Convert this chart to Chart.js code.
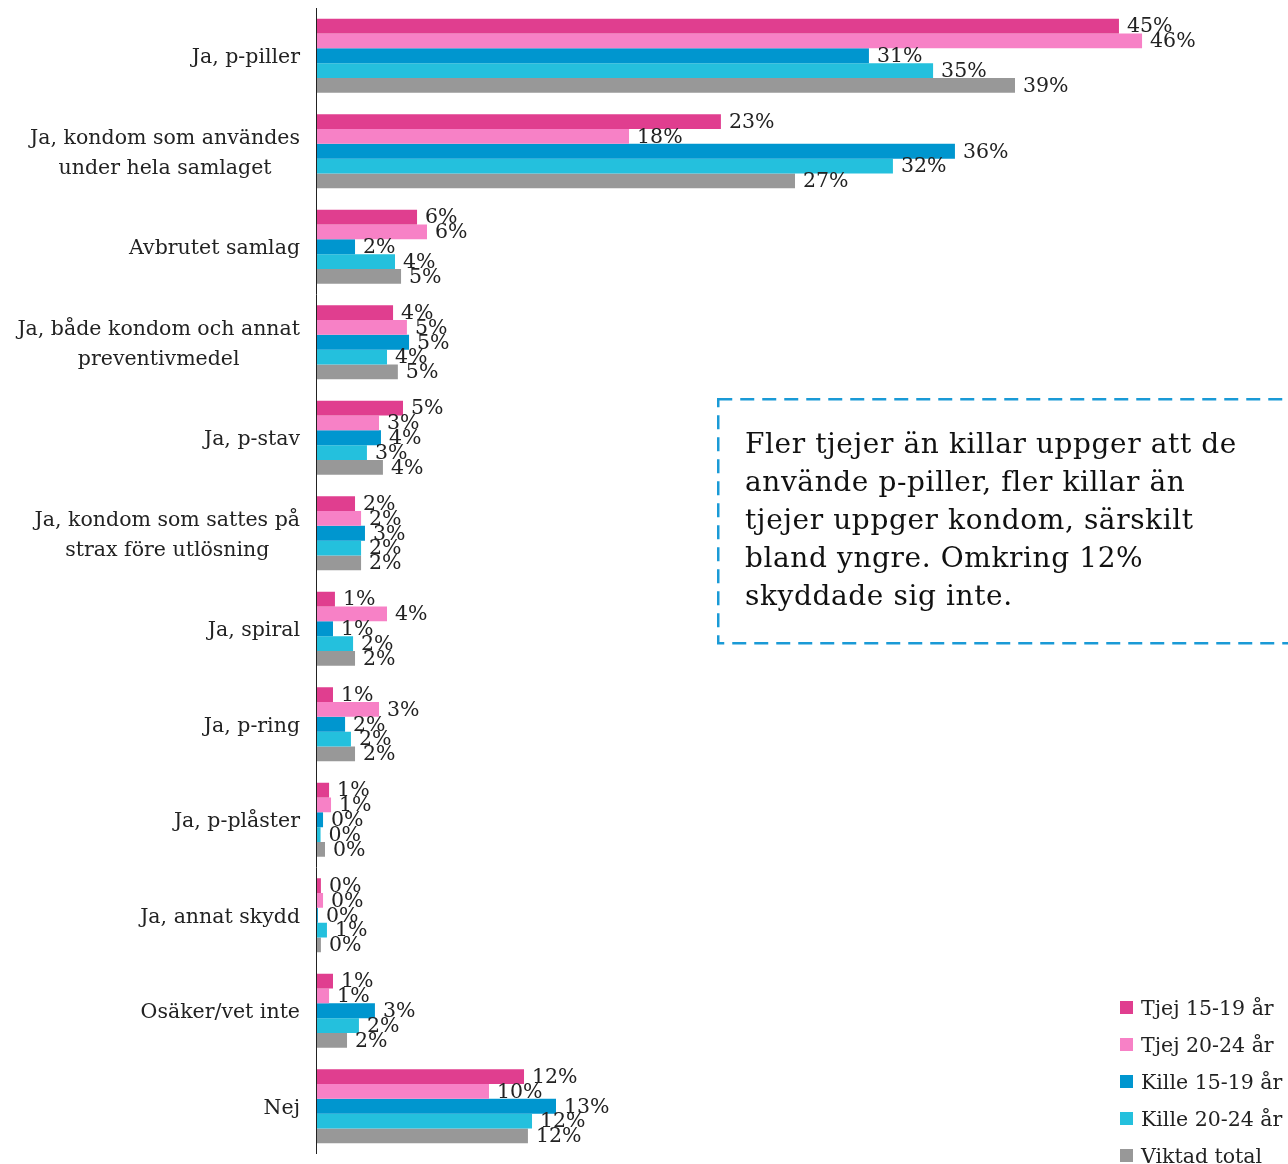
<!DOCTYPE html>
<html lang="sv">
<head>
<meta charset="UTF-8">
<title>Preventivmedel</title>
<style>
  body { margin: 0; background: #fff; overflow: hidden; }
  #wrap { position: relative; width: 1288px; height: 1164px; }
  #note { position: absolute; left: 717px; top: 398px; width: 600px; height: 247px;
          font-family: 'DejaVu Serif', serif; font-size: 28px; letter-spacing: 0.6px;
          line-height: 38px; color: #111; }
  #note svg { position: absolute; left: 0; top: 0; }
  #note p { margin: 0; position: absolute; left: 28px; top: 27px; white-space: nowrap; }
  #legend { position: absolute; left: 1120px; top: 989px;
            font-family: 'DejaVu Serif', serif; font-size: 20.5px; color: #222; }
  .item { height: 37px; display: flex; align-items: center; white-space: nowrap; }
  .sw { width: 13px; height: 13px; margin-right: 8px; flex: none; }
</style>
</head>
<body>
<div id="wrap">
  <canvas id="myChart" width="1288" height="1164"></canvas>
  <div id="note">
    <svg width="620" height="247"><rect x="1.25" y="1.25" width="640" height="244" fill="none"
      stroke="#1a9ad6" stroke-width="2.5" stroke-dasharray="14 8"/></svg>
    <p>Fler tjejer än killar uppger att de<br>använde p-piller, fler killar än<br>tjejer uppger kondom, särskilt<br>bland yngre. Omkring 12%<br>skyddade sig inte.</p>
  </div>
  <div id="legend"></div>
</div>

<script src="https://cdn.jsdelivr.net/npm/chart.js"></script>
<script>
  const categories = [
    ['Ja, p-piller'],
    ['Ja, kondom som användes', 'under hela samlaget'],
    ['Avbrutet samlag'],
    ['Ja, både kondom och annat', 'preventivmedel'],
    ['Ja, p-stav'],
    ['Ja, kondom som sattes på', 'strax före utlösning'],
    ['Ja, spiral'],
    ['Ja, p-ring'],
    ['Ja, p-plåster'],
    ['Ja, annat skydd'],
    ['Osäker/vet inte'],
    ['Nej']
  ];

  const seriesNames = ['Tjej 15-19 år', 'Tjej 20-24 år', 'Kille 15-19 år', 'Kille 20-24 år', 'Viktad total'];
  const seriesColors = ['#e03e8f', '#f781c6', '#0096cf', '#24c0dd', '#989898'];

  const tjej1519  = [45.13, 22.73, 5.63, 4.28, 4.84, 2.14, 1.01, 0.90, 0.68, 0.22, 0.90, 11.65];
  const tjej2024  = [46.43, 17.56, 6.19, 5.06, 3.49, 2.48, 3.94, 3.49, 0.79, 0.34, 0.68, 9.68];
  const kille1519 = [31.06, 35.90, 2.14, 5.18, 3.60, 2.70, 0.90, 1.58, 0.34, 0.05, 3.26, 13.45];
  const kille2024 = [34.67, 32.41, 4.39, 3.94, 2.81, 2.48, 2.03, 1.91, 0.20, 0.56, 2.36, 12.10];
  const viktad    = [39.28, 26.90, 4.73, 4.55, 3.71, 2.48, 2.14, 2.14, 0.45, 0.22, 1.69, 11.87];

  const seriesData = [tjej1519, tjej2024, kille1519, kille2024, viktad];

  const FONT = "'DejaVu Serif', serif";

  // etiketter, y-axellinje
  const labelPlugin = {
    id: 'labels',
    afterDatasetsDraw(chart) {
      const ctx = chart.ctx;
      const area = chart.chartArea;
      const yScale = chart.scales.y;
      ctx.save();

      ctx.strokeStyle = '#222';
      ctx.lineWidth = 1;
      ctx.beginPath();
      ctx.moveTo(area.left - 0.5, area.top);
      ctx.lineTo(area.left - 0.5, area.bottom);
      ctx.stroke();

      ctx.fillStyle = '#222';
      ctx.font = '20.5px ' + FONT;
      ctx.textBaseline = 'middle';
      ctx.textAlign = 'left';
      chart.data.datasets.forEach(function (ds, i) {
        const meta = chart.getDatasetMeta(i);
        meta.data.forEach(function (bar, j) {
          ctx.fillText(Math.round(ds.data[j]) + '%', bar.x + 8, bar.y + 1);
        });
      });

      // kategorier: blocket högerställt, raderna centrerade
      ctx.font = '20.5px ' + FONT;
      ctx.textAlign = 'center';
      categories.forEach(function (lines, j) {
        const yc = yScale.getPixelForValue(j);
        let w = 0;
        lines.forEach(function (l) { w = Math.max(w, ctx.measureText(l).width); });
        const cx = 300 - w / 2;
        const lh = 30;
        lines.forEach(function (l, k) {
          ctx.fillText(l, cx, yc + 2 + (k - (lines.length - 1) / 2) * lh);
        });
      });
      ctx.restore();
    }
  };

  const ctx = document.getElementById('myChart');

  const config = {
    type: 'bar',
    data: {
      labels: categories.map(function (c) { return c.join(' '); }),
      datasets: seriesNames.map(function (name, i) {
        return {
          label: name,
          data: seriesData[i],
          backgroundColor: seriesColors[i],
          borderWidth: 0,
          categoryPercentage: 0.775,
          barPercentage: 1.0
        };
      })
    },
    options: {
      indexAxis: 'y',
      responsive: false,
      animation: false,
      layout: { padding: { left: 317, right: 82.5, top: 8, bottom: 10 } },
      scales: {
        x: { display: false, min: 0, max: 50 },
        y: { display: false }
      },
      plugins: {
        legend: { display: false },
        tooltip: { enabled: false }
      }
    },
    plugins: [labelPlugin]
  };

  new Chart(ctx, config);

  const legend = document.getElementById('legend');
  seriesNames.forEach(function (name, i) {
    const item = document.createElement('div');
    item.className = 'item';
    const sw = document.createElement('span');
    sw.className = 'sw';
    sw.style.background = seriesColors[i];
    const txt = document.createElement('span');
    txt.textContent = name;
    item.appendChild(sw);
    item.appendChild(txt);
    legend.appendChild(item);
  });
</script>
</body>
</html>
